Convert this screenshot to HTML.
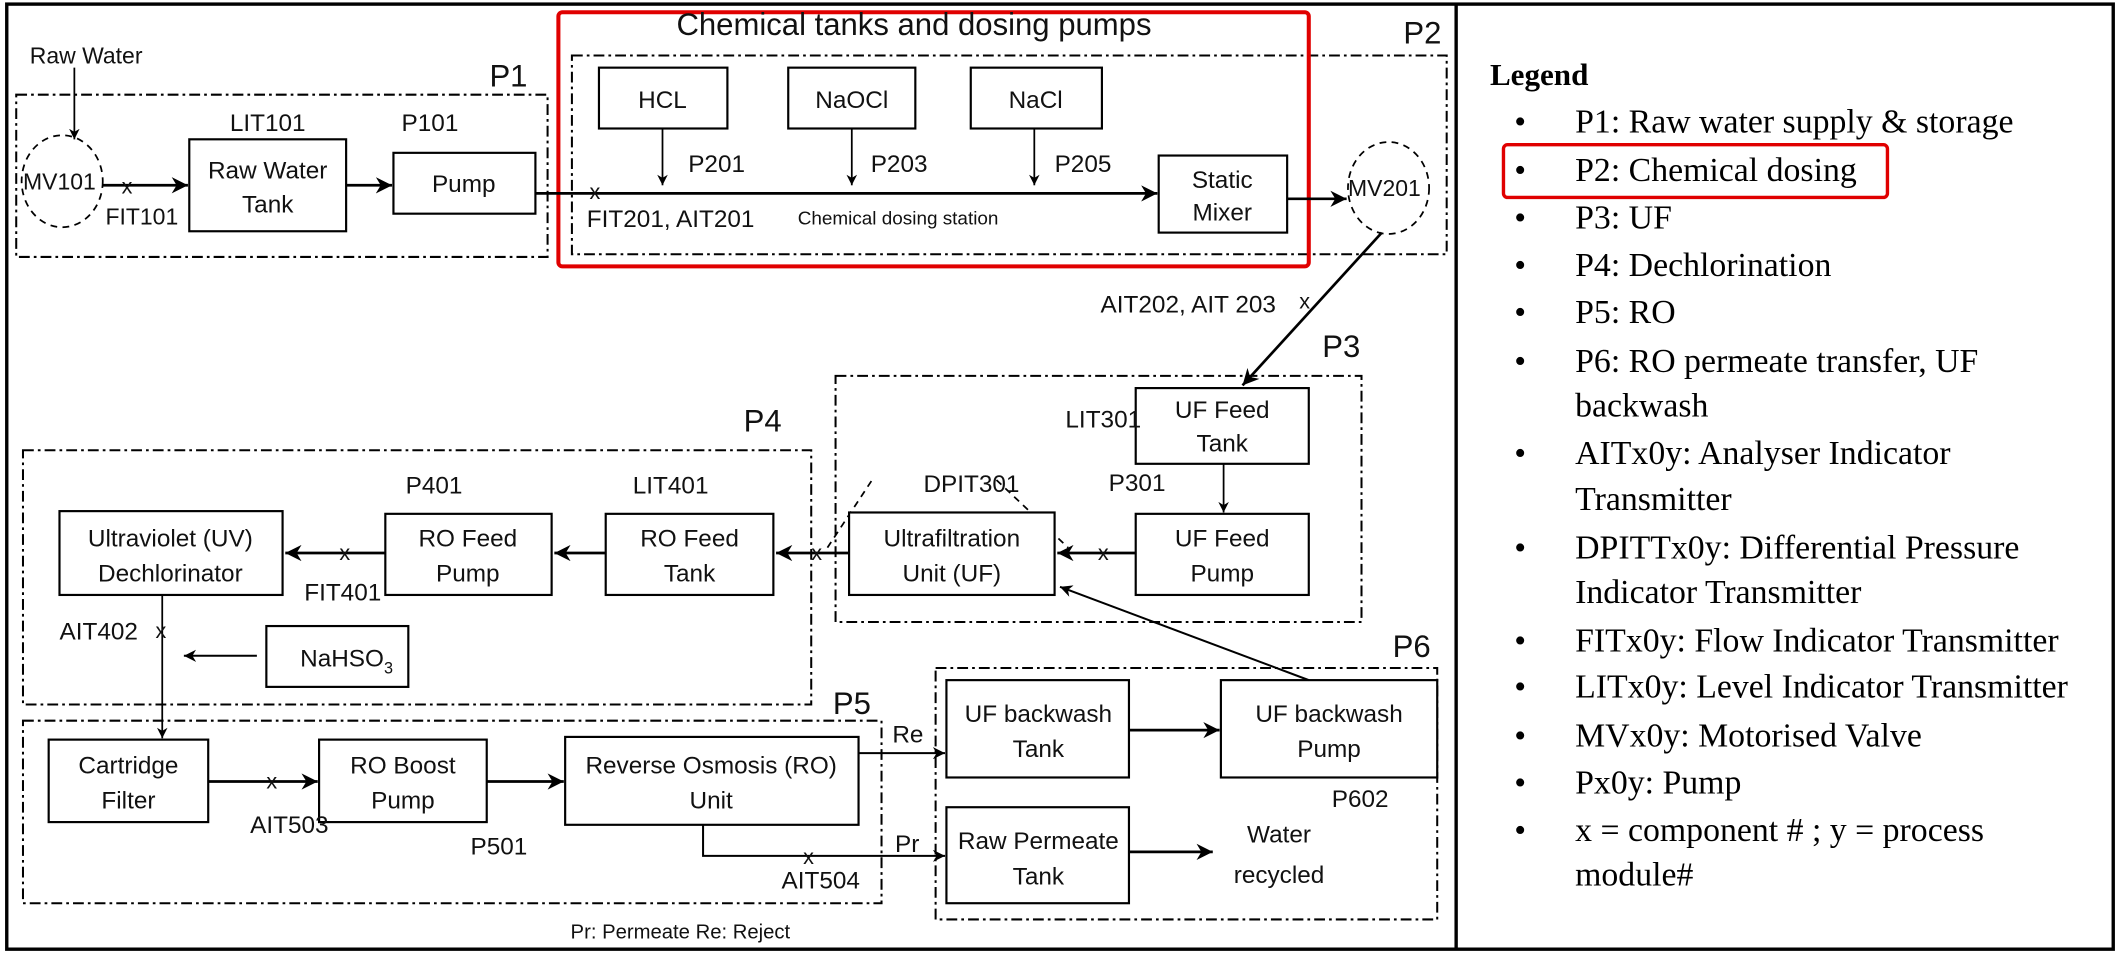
<!DOCTYPE html>
<html><head><meta charset="utf-8"><style>
html,body{margin:0;padding:0;background:#fff;}
svg{display:block;}
.t{font-family:"Liberation Sans",sans-serif;font-size:18px;fill:#111;}
.s{font-family:"Liberation Serif",serif;font-size:25px;fill:#000;}
</style></head><body>
<svg width="2120" height="956" viewBox="0 0 1568 707" xmlns="http://www.w3.org/2000/svg">
<defs>
<marker id="a" viewBox="0 0 10 10" refX="10" refY="5" markerWidth="6" markerHeight="6" orient="auto"><path d="M0,0 L10,5 L0,10 L3,5 z" fill="#000"/></marker>
</defs>
<rect x="0" y="0" width="1568" height="707" fill="#fff"/>
<rect x="5" y="3" width="1558" height="699" fill="none" stroke="#000" stroke-width="2.5"/>
<line x1="1077" y1="3" x2="1077" y2="702" stroke="#000" stroke-width="2.5"/>

<g fill="none" stroke="#000" stroke-width="1.5" stroke-dasharray="8 3 2 3">
<rect x="12" y="70" width="393" height="120"/>
<rect x="423" y="41" width="647" height="147"/>
<rect x="618" y="278" width="389" height="182"/>
<rect x="17" y="333" width="583" height="188"/>
<rect x="17" y="533" width="635" height="135"/>
<rect x="692" y="494" width="371" height="186"/>
</g>
<g fill="none" stroke="#000" stroke-width="1.3" stroke-dasharray="5 4">
<ellipse cx="46" cy="134" rx="30" ry="34"/>
<ellipse cx="1027" cy="139" rx="30" ry="34"/>
<path d="M612,405 L645,355 M737,355 L790,405"/>
</g>
<rect x="413" y="9" width="555" height="188" rx="3" fill="none" stroke="#e00000" stroke-width="3"/>
<rect x="1112" y="107" width="284" height="39" rx="3" fill="none" stroke="#e00000" stroke-width="2.5"/>

<g fill="#fff" stroke="#000" stroke-width="1.6">
<rect x="140" y="103" width="116" height="68"/>
<rect x="291" y="113" width="105" height="45"/>
<rect x="443" y="50" width="95" height="45"/>
<rect x="583" y="50" width="94" height="45"/>
<rect x="718" y="50" width="97" height="45"/>
<rect x="857" y="115" width="95" height="57"/>
<rect x="840" y="287" width="128" height="56"/>
<rect x="840" y="380" width="128" height="60"/>
<rect x="628" y="379" width="152" height="61"/>
<rect x="448" y="380" width="124" height="60"/>
<rect x="285" y="380" width="123" height="60"/>
<rect x="44" y="378" width="165" height="62"/>
<rect x="197" y="463" width="105" height="45"/>
<rect x="36" y="547" width="118" height="61"/>
<rect x="236" y="547" width="124" height="61"/>
<rect x="418" y="545" width="217" height="65"/>
<rect x="700" y="503" width="135" height="72"/>
<rect x="903" y="503" width="160" height="72"/>
<rect x="700" y="597" width="135" height="71"/>
</g>

<g stroke="#000" fill="none" marker-end="url(#a)">
<line x1="55" y1="50" x2="55" y2="103" stroke-width="1.3"/>
<line x1="76" y1="137" x2="139" y2="137" stroke-width="2"/>
<line x1="256" y1="137" x2="290" y2="137" stroke-width="2"/>
<line x1="396" y1="143" x2="856" y2="143" stroke-width="2"/>
<line x1="490" y1="95" x2="490" y2="137" stroke-width="1.3"/>
<line x1="630" y1="95" x2="630" y2="137" stroke-width="1.3"/>
<line x1="765" y1="95" x2="765" y2="137" stroke-width="1.3"/>
<line x1="952" y1="147" x2="996" y2="147" stroke-width="2"/>
<line x1="1022" y1="172" x2="919" y2="285" stroke-width="2"/>
<line x1="905" y1="343" x2="905" y2="379" stroke-width="1.3"/>
<line x1="840" y1="409" x2="782" y2="409" stroke-width="2"/>
<line x1="628" y1="409" x2="574" y2="409" stroke-width="2"/>
<line x1="448" y1="409" x2="410" y2="409" stroke-width="2"/>
<line x1="285" y1="409" x2="211" y2="409" stroke-width="2"/>
<line x1="120" y1="440" x2="120" y2="546" stroke-width="1.3"/>
<line x1="190" y1="485" x2="136" y2="485" stroke-width="1.5"/>
<line x1="154" y1="578" x2="235" y2="578" stroke-width="2"/>
<line x1="360" y1="578" x2="417" y2="578" stroke-width="2"/>
<line x1="635" y1="557" x2="699" y2="557" stroke-width="1.5"/>
<path d="M520,610 L520,633 L699,633" stroke-width="1.5"/>
<line x1="835" y1="540" x2="902" y2="540" stroke-width="2"/>
<line x1="835" y1="630" x2="897" y2="630" stroke-width="2"/>
<line x1="968" y1="503" x2="784" y2="434" stroke-width="1.5"/>
</g>

<g class="t">
<text x="22" y="47" font-size="17">Raw Water</text>
<text x="362" y="64" font-size="23">P1</text>
<text x="1038" y="32" font-size="23">P2</text>
<text x="978" y="264" font-size="23">P3</text>
<text x="550" y="319" font-size="23">P4</text>
<text x="616" y="528" font-size="23">P5</text>
<text x="1030" y="486" font-size="23">P6</text>
<text x="676" y="26" font-size="23" text-anchor="middle">Chemical tanks and dosing pumps</text>
<text x="17" y="140" font-size="17">MV101</text>
<text x="997" y="145" font-size="17">MV201</text>
<text x="90" y="143" font-size="16">x</text>
<text x="78" y="166" font-size="17">FIT101</text>
<text x="170" y="97">LIT101</text>
<text x="297" y="97">P101</text>
<text x="198" y="132" text-anchor="middle">Raw Water</text>
<text x="198" y="157" text-anchor="middle">Tank</text>
<text x="343" y="142" text-anchor="middle">Pump</text>
<text x="490" y="80" text-anchor="middle">HCL</text>
<text x="630" y="80" text-anchor="middle">NaOCl</text>
<text x="766" y="80" text-anchor="middle">NaCl</text>
<text x="509" y="127">P201</text>
<text x="644" y="127">P203</text>
<text x="780" y="127">P205</text>
<text x="904" y="139" text-anchor="middle">Static</text>
<text x="904" y="163" text-anchor="middle">Mixer</text>
<text x="436" y="147" font-size="16">x</text>
<text x="434" y="168">FIT201, AIT201</text>
<text x="590" y="166" font-size="14">Chemical dosing station</text>
<text x="814" y="231">AIT202, AIT 203</text>
<text x="961" y="228" font-size="16">x</text>
<text x="788" y="316">LIT301</text>
<text x="904" y="309" text-anchor="middle">UF Feed</text>
<text x="904" y="334" text-anchor="middle">Tank</text>
<text x="820" y="363">P301</text>
<text x="904" y="404" text-anchor="middle">UF Feed</text>
<text x="904" y="430" text-anchor="middle">Pump</text>
<text x="812" y="414" font-size="16">x</text>
<text x="683" y="364">DPIT301</text>
<text x="704" y="404" text-anchor="middle">Ultrafiltration</text>
<text x="704" y="430" text-anchor="middle">Unit (UF)</text>
<text x="600" y="414" font-size="16">x</text>
<text x="468" y="365">LIT401</text>
<text x="510" y="404" text-anchor="middle">RO Feed</text>
<text x="510" y="430" text-anchor="middle">Tank</text>
<text x="300" y="365">P401</text>
<text x="346" y="404" text-anchor="middle">RO Feed</text>
<text x="346" y="430" text-anchor="middle">Pump</text>
<text x="251" y="414" font-size="16">x</text>
<text x="225" y="444">FIT401</text>
<text x="126" y="404" text-anchor="middle">Ultraviolet (UV)</text>
<text x="126" y="430" text-anchor="middle">Dechlorinator</text>
<text x="44" y="473">AIT402</text>
<text x="115" y="472" font-size="16">x</text>
<text x="222" y="493">NaHSO<tspan font-size="12" dy="5">3</tspan></text>
<text x="95" y="572" text-anchor="middle">Cartridge</text>
<text x="95" y="598" text-anchor="middle">Filter</text>
<text x="197" y="583" font-size="16">x</text>
<text x="185" y="616">AIT503</text>
<text x="298" y="572" text-anchor="middle">RO Boost</text>
<text x="298" y="598" text-anchor="middle">Pump</text>
<text x="348" y="632">P501</text>
<text x="526" y="572" text-anchor="middle">Reverse Osmosis (RO)</text>
<text x="526" y="598" text-anchor="middle">Unit</text>
<text x="660" y="549">Re</text>
<text x="662" y="630">Pr</text>
<text x="594" y="639" font-size="16">x</text>
<text x="578" y="657">AIT504</text>
<text x="768" y="534" text-anchor="middle">UF backwash</text>
<text x="768" y="560" text-anchor="middle">Tank</text>
<text x="983" y="534" text-anchor="middle">UF backwash</text>
<text x="983" y="560" text-anchor="middle">Pump</text>
<text x="985" y="597">P602</text>
<text x="768" y="628" text-anchor="middle">Raw Permeate</text>
<text x="768" y="654" text-anchor="middle">Tank</text>
<text x="946" y="623" text-anchor="middle">Water</text>
<text x="946" y="653" text-anchor="middle">recycled</text>
<text x="422" y="694" font-size="15">Pr: Permeate  Re: Reject</text>
</g>

<g class="s">
<text x="1102" y="63" font-weight="bold" font-size="23">Legend</text>
<text x="1120" y="98">•</text><text x="1165" y="98">P1: Raw water supply &amp; storage</text>
<text x="1120" y="134">•</text><text x="1165" y="134">P2: Chemical dosing</text>
<text x="1120" y="169">•</text><text x="1165" y="169">P3: UF</text>
<text x="1120" y="204">•</text><text x="1165" y="204">P4: Dechlorination</text>
<text x="1120" y="239">•</text><text x="1165" y="239">P5: RO</text>
<text x="1120" y="275">•</text><text x="1165" y="275">P6: RO permeate transfer, UF</text>
<text x="1165" y="308">backwash</text>
<text x="1120" y="343">•</text><text x="1165" y="343">AITx0y: Analyser Indicator</text>
<text x="1165" y="377">Transmitter</text>
<text x="1120" y="413">•</text><text x="1165" y="413">DPITTx0y: Differential Pressure</text>
<text x="1165" y="446">Indicator Transmitter</text>
<text x="1120" y="482">•</text><text x="1165" y="482">FITx0y: Flow Indicator Transmitter</text>
<text x="1120" y="516">•</text><text x="1165" y="516">LITx0y: Level Indicator Transmitter</text>
<text x="1120" y="552">•</text><text x="1165" y="552">MVx0y: Motorised Valve</text>
<text x="1120" y="587">•</text><text x="1165" y="587">Px0y: Pump</text>
<text x="1120" y="622">•</text><text x="1165" y="622">x = component # ; y = process</text>
<text x="1165" y="655">module#</text>
</g>
</svg>
</body></html>
